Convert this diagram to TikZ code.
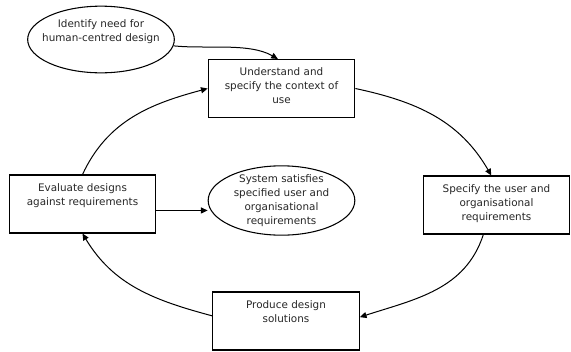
\documentclass[tikz,border=0pt]{standalone}
\usepackage{fontspec}
\setmainfont{DejaVu Sans}
\usetikzlibrary{arrows.meta,shapes.geometric}

\begin{document}
\begin{tikzpicture}[x=0.75pt, y=0.75pt, >={Triangle[length=5pt,width=4.5pt]},
  stage/.style={draw, rectangle, line width=0.8pt, text=black!85, text width=104pt, align=center,
    inner xsep=3pt, inner ysep=3pt, text height=9pt, text depth=28.5pt,
    font=\fontsize{7.8}{10.5}\selectfont},
  goal/.style={draw, ellipse, line width=0.8pt, text=black!85, minimum width=110pt, minimum height=50pt,
    inner sep=-8pt, align=center, font=\fontsize{7.8}{10.5}\selectfont},
  flow/.style={->, line width=0.75pt}]

% ---------------- 1. FRAME ----------------
\useasboundingbox (0,0) rectangle (571,-351);

% ---------------- 2. START AND END GOALS ----------------
% text sits in the upper half of the first ellipse
\node[goal, text height=17.5pt, text depth=14.5pt] (need) at (101,-39.5) {Identify need for\\human-centred design};
\node[goal, minimum height=52pt] (done) at (281.5,-200.5) {System satisfies\\specified user and\\organisational\\requirements};

% ---------------- 3. DESIGN ACTIVITIES ----------------
\node[stage] (ctx) at (281.5,-88.5) {Understand and\\specify the context of\\use};
\node[stage] (req) at (496.5,-205) {Specify the user and\\organisational\\requirements};
\node[stage] (sol) at (286,-321) {Produce design\\solutions};
\node[stage] (eval) at (82.5,-204) {Evaluate designs\\against requirements};

% ---------------- 4. ITERATION CYCLE ----------------
\draw[flow] (need.-5) to[out=-6, in=150, looseness=0.8] (ctx.97);
\draw[flow] (ctx.east) to[out=-12, in=120] (req.100);
\draw[flow] (req.-114) to[out=-108, in=18] (sol.3);
\draw[flow] (sol.176) to[out=165, in=-59] (eval.south);
\draw[flow] (eval.north) to[out=65, in=195] (ctx.west);

% Exit once requirements are met
\draw[flow] (eval.-5) -- (eval.-5 -| done.west);

\end{tikzpicture}
\end{document}
